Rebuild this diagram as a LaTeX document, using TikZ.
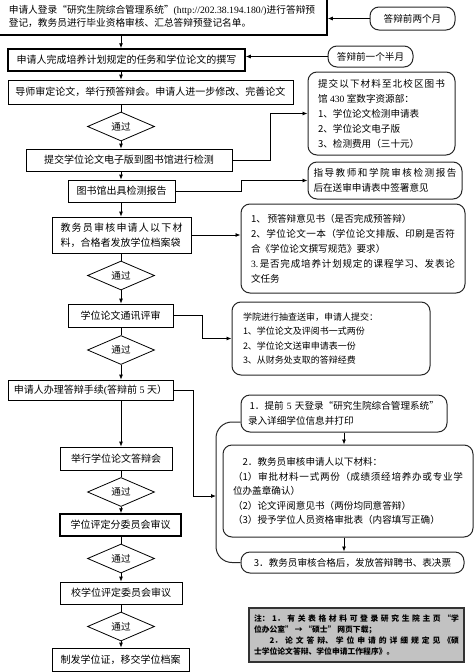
\documentclass[tikz,border=0pt]{standalone}
\usepackage{fontspec}
\setmainfont{Noto Sans CJK SC}
\newfontfamily\enfont{Liberation Serif}
\usetikzlibrary{shapes.geometric,arrows.meta}
\XeTeXlinebreaklocale "zh"
\XeTeXlinebreakskip=0pt plus 1pt

\begin{document}
\begin{tikzpicture}[x=1pt,y=-1pt,
    box/.style={draw,line width=0.8pt,inner sep=2pt,font=\fontsize{10}{15}\selectfont},
    boldbox/.style={box,line width=1.5pt},
    rbox/.style={draw=black!85,line width=1pt,rounded corners=9pt,inner ysep=2pt,align=left,font=\fontsize{9.6}{15}\selectfont},
    decision/.style={diamond,draw,line width=0.8pt,inner sep=0pt,minimum width=67,minimum height=29,font=\fontsize{9.6}{12}\selectfont},
    arr/.style={line width=0.8pt,-{Latex[length=5pt,width=4pt]}},
    link/.style={line width=0.8pt},
    note/.style={draw=black!80,line width=1.5pt,fill=black!24,inner xsep=5pt,inner ysep=2pt,text width=205,align=justify,font=\fontsize{7.8}{11.3}\selectfont\bfseries}]
    \useasboundingbox (0,0) rectangle (474,672);
    \clip (0,0) rectangle (474,672);
    % Main column
    \node[boldbox,minimum width=330,minimum height=37,align=left,font=\fontsize{9.7}{13}\selectfont] (b1) at (162,16.5)
        {申请人登录“研究生院综合管理系统”{\enfont(http://202.38.194.180/)}进行答辩预\\登记，教务员进行毕业资格审核、汇总答辩预登记名单。};
    \node[boldbox,minimum width=237,minimum height=22] (b2) at (126.5,60) {申请人完成培养计划规定的任务和学位论文的撰写};
    \node[box,minimum width=285,minimum height=24] (b3) at (150.5,92) {导师审定论文，举行预答辩会。申请人进一步修改、完善论文};
    \node[decision] (d1) at (121,126.5) {通过};
    \node[box,minimum width=206,minimum height=22] (b4) at (129,160) {提交学位论文电子版到图书馆进行检测};
    \node[box,minimum width=107,minimum height=22] (b5) at (121.5,191) {图书馆出具检测报告};
    \node[box,inner xsep=8.5pt,minimum height=36,text width=122,align=justify] (b6) at (121.5,235)
        {教务员审核申请人以下材\linebreak 料，合格者发放学位档案袋};
    \node[decision] (d2) at (121,275.5) {通过};
    \node[box,minimum width=105,minimum height=23] (b7) at (120.5,315.5) {学位论文通讯评审};
    \node[decision] (d3) at (121,350) {通过};
    \node[box,minimum width=165,minimum height=20] (b8) at (90.5,390) {申请人办理答辩手续{\enfont(}答辩前{\enfont\ 5\ }天）};
    \node[box,minimum width=112,minimum height=23] (b12) at (116,458.5) {举行学位论文答辩会};
    \node[decision] (d4) at (121,492) {通过};
    \node[boldbox,minimum width=121,minimum height=22] (b13) at (120.5,525) {学位评定分委员会审议};
    \node[decision] (d5) at (121,558.5) {通过};
    \node[box,minimum width=122,minimum height=22] (b14) at (121,593) {校学位评定委员会审议};
    \node[decision] (d6) at (121,626.5) {通过};
    \node[box,minimum width=137,minimum height=23] (b15) at (120.5,659.5) {制发学位证，移交学位档案};
    % Side notes
    \node[rbox,minimum width=85,minimum height=23,align=center] (t1) at (412.5,18.5) {答辩前两个月};
    \node[rbox,minimum width=85,minimum height=21,align=center] (t2) at (370.5,56.5) {答辩前一个半月};
    \node[rbox,inner xsep=10pt,text width=127,minimum height=83,align=justify] (r1) at (381.5,113.5)
        {提交以下材料至北校区图书\linebreak 馆{\enfont\ 430\ }室数字资源部：\\1、学位论文检测申请表\\2、学位论文电子版\\3、检测费用（三十元）};
    \node[rbox,inner xsep=5.5pt,text width=143,minimum height=37,align=justify] (r2) at (385,180.5)
        {指导教师和学院审核检测报告\linebreak 后在送审申请表中签署意见};
    \node[rbox,inner xsep=10pt,text width=204,minimum height=89,align=justify] (r3) at (353,248.5)
        {1、\,预答辩意见书（是否完成预答辩）\\2、学位论文一本（学位论文排版、印刷是否符\linebreak 合《学位论文撰写规范》要求）\\{\enfont 3.}\,是否完成培养计划规定的课程学习、发表论\linebreak 文任务};
    \node[rbox,inner xsep=11pt,text width=176,minimum height=73,font=\fontsize{9}{14.5}\selectfont] (r4) at (331,338.5)
        {学院进行抽查送审，申请人提交：\\1、学位论文及评阅书一式两份\\2、学位论文送审申请表一份\\3、从财务处支取的答辩经费};
    \node[rbox,inner xsep=7pt,text width=192,minimum height=37] (r5) at (344,413.5)
        {\,1．提前{\enfont\ 5\ }天登录“研究生院综合管理系统”\\录入详细学位信息并打印};
    \node[rbox,inner xsep=10pt,text width=230,minimum height=92,align=justify,font=\fontsize{9.6}{14.5}\selectfont] (r10) at (348,491)
        {\hspace*{1em}2．教务员审核申请人以下材料：\\（1）审批材料一式两份（成绩须经培养办或专业学\linebreak 位办盖章确认）\\（2）论文评阅意见书（两份均同意答辩）\\（3）授予学位人员资格审批表（内容填写正确）};
    \node[rbox,minimum width=223,minimum height=21,align=center] (r11) at (352.5,562.5) {3．教务员审核合格后，发放答辩聘书、表决票};
    \node[note,minimum height=54] (n1) at (356.5,635)
        {注：1．有关表格材料可登录研究生院主页“学\linebreak 位办公室” → “硕士” 网页下载；\par
        \hspace*{2em}2．论文答辩、学位申请的详细规定见《硕\linebreak 士学位论文答辩、学位申请工作程序》。};
    \coordinate (brk) at (216,496);
    % Main arrows
    \draw[arr] (b1.south -| d1) -- (b2.north -| d1);
    \draw[arr] (b2.south -| d1) -- (b3.north -| d1);
    \draw[link] (b3.south -| d1) -- (d1.north);
    \draw[arr] (d1.south) -- (b4.north -| d1);
    \draw[arr] (b4.south -| d1) -- (b5.north -| d1);
    \draw[arr] (b5.south -| d1) -- (b6.north -| d1);
    \draw[link] (b6.south -| d2) -- (d2.north);
    \draw[arr] (d2.south) -- (b7.north -| d2);
    \draw[link] (b7.south -| d3) -- (d3.north);
    \draw[arr] (d3.south) -- (b8.north -| d3);
    \draw[arr] (b8.south -| d3) -- (b12.north -| d3);
    \draw[link] (b12.south -| d4) -- (d4.north);
    \draw[arr] (d4.south) -- (b13.north -| d4);
    \draw[link] (b13.south -| d5) -- (d5.north);
    \draw[arr] (d5.south) -- (b14.north -| d5);
    \draw[link] (b14.south -| d6) -- (d6.north);
    \draw[arr] (d6.south) -- (b15.north -| d6);
    % Side arrows
    \draw[arr] (t1.west) -- (t1.west -| b1.east);
    \draw[arr] (t2.west) -- (t2.west -| b2.east);
    \draw[arr] (b4.east) -- ++(38,0) |- (r1.west);
    \draw[arr] (b5.east) -- ++(66,0) |- (r2.west);
    \draw[arr] (b6.east) -- (b6.east -| r3.west);
    \draw[arr] (b7.east) -- ++(29,0) |- (r4.west);
    \draw[arr] (b8.east) -- ++(20,0) |- (brk);
    \draw[arr] (r5.south) -- (r5.south |- r10.north);
    \draw[arr] (r5.south |- r10.south) -- (r5.south |- r11.north);
    % Bracket round the defence steps
    \draw[draw=black!85,line width=1pt,rounded corners=16] ([yshift=-8.5pt]r5.west) -| (brk) |- (r11.west);
\end{tikzpicture}
\end{document}
